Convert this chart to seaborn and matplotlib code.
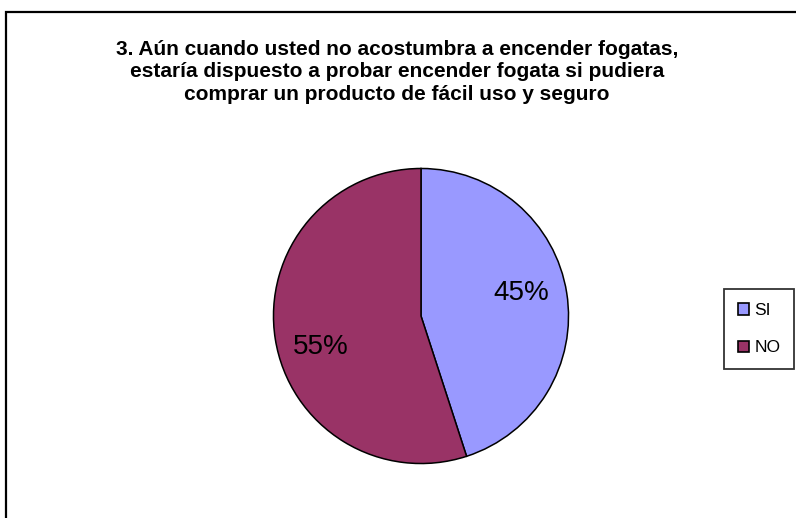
import matplotlib
matplotlib.use("Agg")
import matplotlib.pyplot as plt
import matplotlib.patches as mpatches
import seaborn as sns

# Survey answers
categories = ["SI", "NO"]
shares = [45, 55]
colors = ["#9999FF", "#993366"]
title = ("3. Aún cuando usted no acostumbra a encender fogatas,\n"
         "estaría dispuesto a probar encender fogata si pudiera\n"
         "comprar un producto de fácil uso y seguro")

sns.set_theme(style="white")
plt.rcParams["font.family"] = ["Liberation Sans", "DejaVu Sans"]
plt.rcParams["text.color"] = "black"

W, H = 796, 518
fig = plt.figure(figsize=(W / 100, H / 100), dpi=100)
fig.patch.set_facecolor("white")

# Chart frame, open towards the right and bottom edges
frame = mpatches.Rectangle((6 / W, -0.05), 1.2, 1 - 11.5 / H + 0.05,
                           transform=fig.transFigure, fill=False,
                           edgecolor="black", linewidth=1.6, clip_on=False)
fig.patches.append(frame)

cx, cy, r = 421, 316, 149
ax = fig.add_axes([(cx - r) / W, (H - cy - r) / H, 2 * r / W, 2 * r / H])
palette = sns.color_palette(colors)
wedges, texts, autotexts = ax.pie(
    shares, colors=palette, startangle=90, counterclock=False,
    autopct="%1.0f%%", pctdistance=0.69,
    wedgeprops=dict(edgecolor="black", linewidth=1.1),
    textprops=dict(fontsize=20, color="black"))
# Percentage labels sit slightly off the radial midpoint
for t, dy in zip(autotexts, (0.05, -0.10)):
    x, y = t.get_position()
    t.set_position((x, y + dy))
ax.set_xlim(-1.01, 1.01)
ax.set_ylim(-1.01, 1.01)
ax.set_aspect("equal")
ax.axis("off")

fig.text(397 / W, 1 - 72 / H, title, ha="center", va="center",
         fontsize=15, fontweight="bold", linespacing=1.24, color="black")

handles = [mpatches.Patch(facecolor=c, edgecolor="black", linewidth=1.2)
           for c in palette]
leg = fig.legend(handles, categories, loc="upper left",
                 bbox_to_anchor=(724 / W, 1 - 289 / H),
                 fontsize=12.5, frameon=True, fancybox=False,
                 handlelength=0.65, handleheight=0.65, handletextpad=0.3,
                 labelspacing=1.3, borderpad=0.8, borderaxespad=0)
for t in leg.get_texts():
    t.set_color("black")
leg.get_frame().set_edgecolor("black")
leg.get_frame().set_linewidth(1.3)

fig.savefig("out.png", dpi=100, facecolor="white")
